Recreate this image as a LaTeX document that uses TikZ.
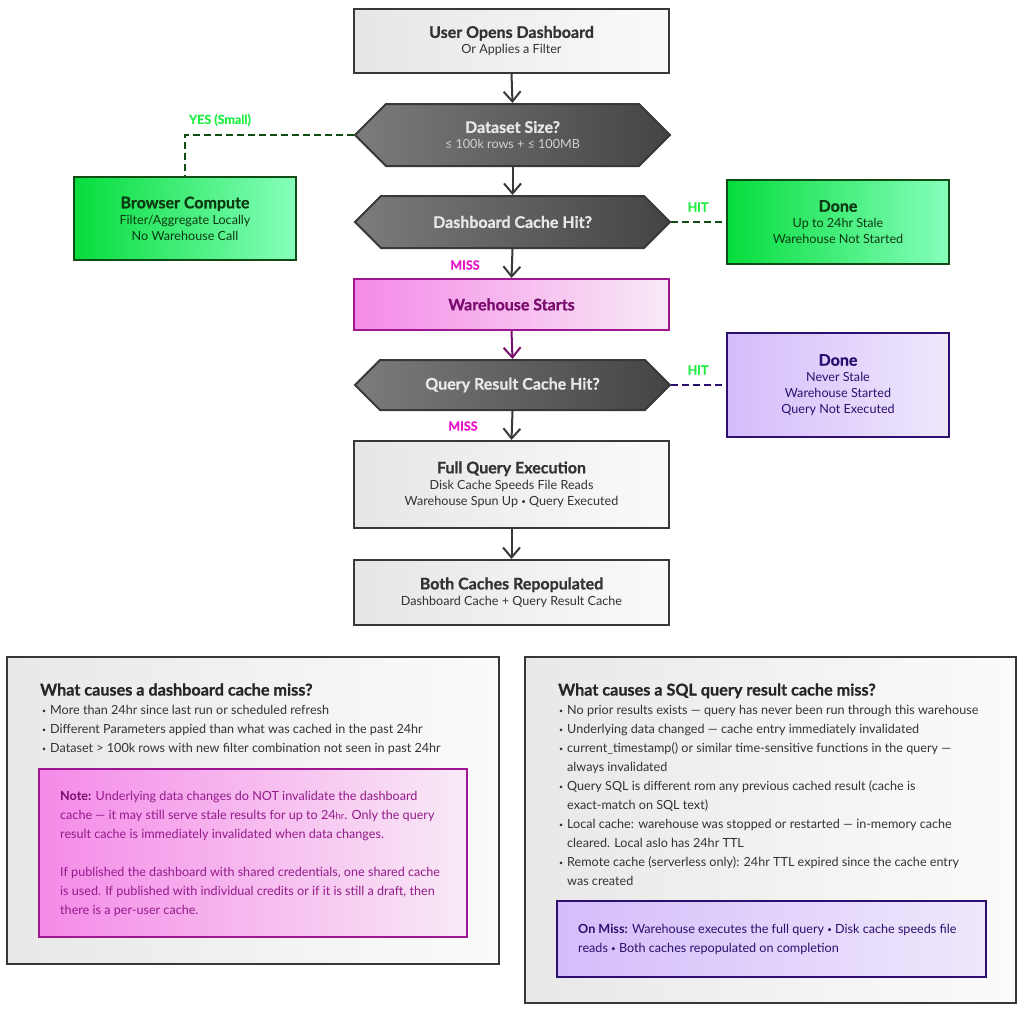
\documentclass[tikz,border=0pt]{standalone}
\usepackage{fontspec}
\setmainfont{Lato}
\usetikzlibrary{arrows.meta,shapes.symbols}
\definecolor{boxline}{HTML}{383838}
\definecolor{grayL}{HTML}{E6E6E6}
\definecolor{grayR}{HTML}{FAFAFA}
\definecolor{graytext}{HTML}{333333}
\definecolor{hexL}{HTML}{7C7C7C}
\definecolor{hexR}{HTML}{444444}
\definecolor{hextext}{HTML}{E8E8E8}
\definecolor{greenL}{HTML}{05DD3C}
\definecolor{greenR}{HTML}{86FFBC}
\definecolor{greenline}{HTML}{0F4D14}
\definecolor{greentext}{HTML}{0D3A12}
\definecolor{greenlbl}{HTML}{22EE44}
\definecolor{missC}{HTML}{E815C8}
\definecolor{pinkL}{HTML}{F58AE8}
\definecolor{pinkR}{HTML}{F8EAF6}
\definecolor{pinkline}{HTML}{9E1690}
\definecolor{pinktext}{HTML}{7A0C6E}
\definecolor{notetext}{HTML}{951A8C}
\definecolor{purpL}{HTML}{D4BCFA}
\definecolor{purpR}{HTML}{EFE8FC}
\definecolor{purpline}{HTML}{2D0F72}
\definecolor{purptext}{HTML}{2A106E}
\definecolor{panelL}{HTML}{E8E8E8}
\definecolor{panelR}{HTML}{FBFBFB}
\newcommand\ttl[1]{{\bfseries\addfontfeature{FakeBold=0.8}\fontsize{16}{16}\selectfont #1}}
\newcommand\bul{\makebox[8pt][l]{\raisebox{1.2pt}{\fontsize{7}{7}\selectfont •}}}
\newcommand\sbul{\raisebox{1pt}{\fontsize{8}{8}\selectfont •}}
\newcommand\cont{\hspace*{8pt}}
\begin{document}
\begin{tikzpicture}[x=1pt,y=-1pt,
  box/.style={draw=boxline, line width=2pt, minimum width=315pt, inner sep=0pt, align=center, font=\fontsize{12.6}{16}\selectfont},
  graybox/.style={box, left color=grayL, right color=grayR, text=graytext},
  greenbox/.style={box, draw=greenline, left color=greenL, right color=greenR, text=greentext, minimum width=222pt},
  purpbox/.style={box, draw=purpline, left color=purpL, right color=purpR, text=purptext, minimum width=222pt},
  pinkbox/.style={box, draw=pinkline, left color=pinkL, right color=pinkR, text=pinktext},
  hexa/.style={signal, signal to=west and east, signal pointer angle=90, draw=boxline, line width=2pt,
    left color=hexL, right color=hexR, text=hextext, minimum width=315pt, inner sep=0pt, align=center,
    font=\fontsize{12.6}{16}\selectfont},
  flow/.style={draw=boxline, line width=2pt, -{Straight Barb[length=10pt,width=17pt]}},
  dashg/.style={draw=greenline, line width=2pt, dash pattern=on 7pt off 4pt},
  dashp/.style={draw=purpline, line width=2pt, dash pattern=on 7pt off 4pt},
  lbl/.style={font=\bfseries\addfontfeature{FakeBold=0.6}\fontsize{12.5}{14}\selectfont, inner sep=0pt},
  panel/.style={draw=boxline, line width=2pt, left color=panelL, right color=panelR},
  paneltext/.style={anchor=base west, inner sep=0pt, align=left, text=graytext, font=\fontsize{12.6}{19}\selectfont},
  paneltitle/.style={anchor=base west, inner sep=0pt, text=black!85, font=\bfseries\addfontfeature{FakeBold=0.8}\fontsize{16.2}{18}\selectfont}
]
\useasboundingbox[fill=white] (0,0) rectangle (1024,1013);

% flow nodes
\node[graybox, minimum height=64pt] (top) at (511.5,41) {\ttl{User Opens Dashboard}\\Or Applies a Filter};
\node[hexa, minimum height=62pt] (hex1) at (512.5,135) {\ttl{Dataset Size?}\\{\color{hextext!90!black}≤ 100k rows + ≤ 100MB}};
\node[hexa, minimum height=52pt] (hex2) at (512.5,222) {\ttl{Dashboard Cache Hit?}};
\node[pinkbox, minimum height=51pt] (wh) at (511.5,304.5) {\ttl{Warehouse Starts}};
\node[hexa, minimum height=50pt] (hex3) at (512.5,385) {\ttl{Query Result Cache Hit?}};
\node[graybox, minimum height=87pt] (full) at (511.5,484.5) {\ttl{Full Query Execution}\\Disk Cache Speeds File Reads\\Warehouse Spun Up \sbul{} Query Executed};
\node[graybox, minimum height=65pt] (both) at (511.5,592.5) {\ttl{Both Caches Repopulated}\\Dashboard Cache + Query Result Cache};
\node[greenbox, minimum height=83pt] (browser) at (185,218.5) {\ttl{Browser Compute}\\Filter/Aggregate Locally\\No Warehouse Call};
\node[greenbox, minimum height=84pt] (done1) at (838,222) {\ttl{Done}\\Up to 24hr Stale\\Warehouse Not Started};
\node[purpbox, minimum height=104pt] (done2) at (838,385) {\ttl{Done}\\Never Stale\\Warehouse Started\\Query Not Executed};

% connectors
\draw[flow] (top.south) -- (hex1.north);
\draw[flow] (hex1.south) -- (hex2.north);
\draw[flow] (hex2.south) -- (wh.north);
\draw[flow, draw=pinktext] (wh.south) -- (hex3.north);
\draw[flow] (hex3.south) -- (full.north);
\draw[flow] (full.south) -- (both.north);
\draw[dashg] (hex1.west) -| (browser.north);
\draw[dashg] (hex2.east) -- (done1.west);
\draw[dashp] (hex3.east) -- (done2.west);

% labels
\node[lbl, text=greenlbl] (lyes) at (220,120) {YES (Small)};
\node[lbl, text=greenlbl] (lhit1) at (698,207) {HIT};
\node[lbl, text=missC] (lmiss1) at (465,265) {MISS};
\node[lbl, text=greenlbl] (lhit2) at (698,370) {HIT};
\node[lbl, text=missC] (lmiss2) at (463,426) {MISS};

% bottom left panel (multi-line nodes: base = baseline of last line)
\draw[panel] (7,657) rectangle (499,964);
\node[paneltitle] (ltitle) at (40,695.5) {What causes a dashboard cache miss?};
\node[paneltext] (lbul) at (42,752.5) {\bul More than 24hr since last run or scheduled refresh\\
\bul Different Parameters appied than what was cached in the past 24hr\\
\bul Dataset > 100k rows with new filter combination not seen in past 24hr};
\draw[line width=2pt, draw=pinkline, left color=pinkL, right color=pinkR] (39,769) rectangle (467,937);
\node[paneltext, text=notetext] (note) at (60,914.5) {{\bfseries\color{pinktext}Note:} Underlying data changes do NOT invalidate the dashboard\\
cache — it may still serve stale results for up to 24{\fontsize{9.5}{9}\selectfont hr}. Only the query\\
result cache is immediately invalidated when data changes.\\[19pt]
If published the dashboard with shared credentials, one shared cache\\
is used. If published with individual credits or if it is still a draft, then\\
there is a per-user cache.};

% bottom right panel
\draw[panel] (525,657) rectangle (1016,1003);
\node[paneltitle] (rtitle) at (558,695.5) {What causes a SQL query result cache miss?};
\node[paneltext] (rbul) at (559,885.5) {\bul No prior results exists — query has never been run through this warehouse\\
\bul Underlying data changed — cache entry immediately invalidated\\
\bul current\_timestamp() or similar time-sensitive functions in the query —\\
\cont always invalidated\\
\bul Query SQL is different rom any previous cached result (cache is\\
\cont exact-match on SQL text)\\
\bul Local cache: warehouse was stopped or restarted — in-memory cache\\
\cont cleared. Local aslo has 24hr TTL\\
\bul Remote cache (serverless only): 24hr TTL expired since the cache entry\\
\cont was created};
\draw[line width=2pt, draw=purpline, left color=purpL, right color=purpR] (557,901) rectangle (986,977);
\node[paneltext, text=purptext] (onmiss) at (578,952) {{\bfseries On Miss:} Warehouse executes the full query \sbul{} Disk cache speeds file\\
reads \sbul{} Both caches repopulated on completion};
\end{tikzpicture}
\end{document}
